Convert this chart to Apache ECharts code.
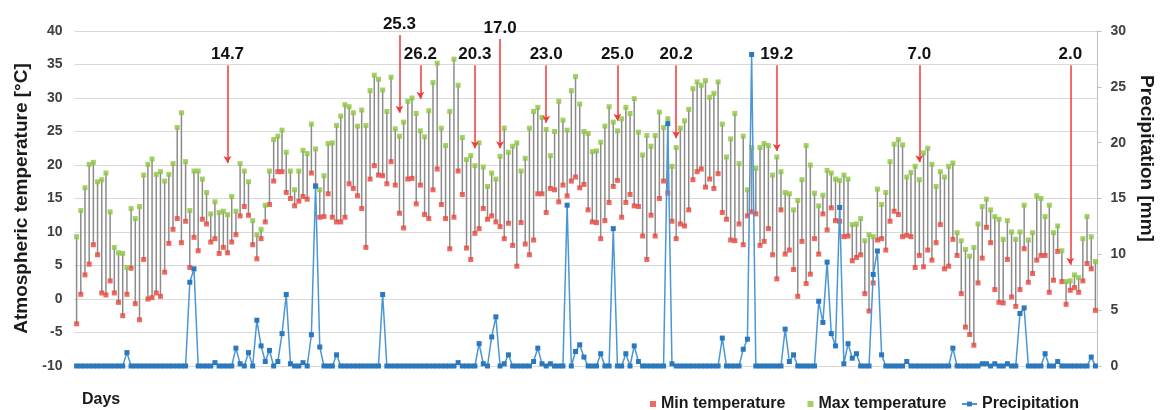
<!DOCTYPE html>
<html>
<head>
<meta charset="utf-8">
<script src="https://cdn.jsdelivr.net/npm/echarts@6/dist/echarts.min.js"></script>
<style>
  html, body { margin: 0; padding: 0; background: #fff; }
  #chart { width: 1164px; height: 410px; }
</style>
</head>
<body>
<div id="chart"></div>
<script>
// daily values (244 days)
var minTemp = [
  -3.7, 0.7, 3.6, 5.2, 8.1, 6.6, 0.9, 0.6, 2.7, 0.9, -0.5, -2.5, 0.7, 4.6, -0.7, -3.1, 5.9, 0.0, 0.2, 0.9,
  0.4, 4.0, 8.3, 10.4, 12.0, 8.4, 11.6, 4.7, 9.2, 7.2, 11.9, 11.2, 8.5, 9.0, 6.8, 7.7, 6.9, 8.5, 9.6, 12.4,
  13.8, 12.5, 8.1, 6.0, 9.0, 11.5, 14.1, 17.6, 19.0, 19.0, 15.9, 15.0, 13.9, 14.6, 15.3, 14.9, 18.8, 16.9, 12.2, 12.3,
  15.7, 12.2, 11.5, 11.5, 12.2, 17.2, 16.5, 15.4, 13.5, 7.7, 17.9, 19.9, 18.5, 18.4, 17.2, 20.5, 17.0, 12.8, 10.6, 17.9,
  18.0, 14.2, 17.0, 12.6, 12.0, 16.3, 19.4, 14.1, 12.0, 7.5, 12.2, 19.1, 15.6, 7.6, 5.9, 9.8, 10.5, 13.5, 11.9, 12.4,
  11.5, 10.8, 9.0, 11.3, 8.0, 4.9, 11.4, 8.2, 6.6, 8.8, 15.7, 15.7, 12.9, 16.5, 16.3, 14.5, 17.0, 15.4, 17.6, 18.2,
  16.6, 17.1, 13.3, 11.5, 11.4, 9.0, 11.7, 14.4, 16.8, 17.7, 12.2, 14.4, 15.6, 13.9, 13.8, 9.4, 5.9, 12.5, 9.4, 15.0,
  17.6, 15.8, 11.6, 9.0, 11.2, 10.9, 13.3, 17.8, 19.0, 19.4, 16.7, 17.9, 16.5, 18.7, 12.9, 11.9, 8.8, 8.7, 11.2, 8.1,
  12.4, 13.0, 12.7, 8.0, 8.6, 10.5, 6.6, 3.0, 13.3, 6.7, 7.3, 4.4, 0.4, 8.6, 2.3, 3.7, 9.0, 6.7, 12.7, 10.3,
  13.6, 11.7, 11.6, 9.3, 9.4, 5.7, 6.2, 6.6, 0.8, -1.8, 2.4, 8.8, 9.0, 7.3, 11.6, 13.1, 12.6, 9.3, 9.5, 9.3,
  4.7, 6.5, 4.8, 7.3, 5.8, 8.4, 11.1, 4.5, 4.9, 8.9, 6.5, 0.8, -4.2, -5.3, -6.9, 2.4, 6.1, 10.7, 8.4, 1.4,
  -0.5, -0.6, 5.9, 0.3, -1.1, 1.4, 7.5, 2.5, 3.8, 5.8, 6.5, 6.5, 1.0, 2.8, 7.1, 2.6, -0.8, 1.3, 1.7, 1.0,
  2.7, 5.3, 4.5, -1.7
];
var maxTemp = [
  9.3, 13.2, 16.6, 20.1, 20.4, 17.5, 17.8, 18.8, 13.0, 7.7, 6.9, 6.8, 4.7, 13.5, 12.0, 13.8, 18.5, 20.1, 20.9, 18.6,
  19.0, 17.6, 18.6, 20.2, 25.6, 27.8, 20.5, 13.2, 19.1, 19.1, 17.9, 15.9, 12.7, 14.5, 12.9, 13.1, 12.6, 15.3, 13.1, 20.2,
  19.1, 17.5, 11.7, 9.6, 10.4, 14.0, 19.1, 23.8, 24.3, 25.2, 21.9, 19.1, 16.3, 19.1, 22.2, 21.7, 26.1, 22.4, 16.3, 18.4,
  23.2, 23.3, 25.9, 27.3, 29.0, 28.7, 27.8, 25.8, 28.2, 25.9, 31.1, 33.4, 32.8, 31.2, 28.0, 33.1, 25.4, 24.3, 26.4, 29.5,
  30.0, 27.7, 25.1, 24.2, 28.1, 32.3, 35.2, 25.5, 22.9, 28.0, 35.8, 31.9, 24.1, 20.8, 21.4, 19.9, 23.3, 19.7, 16.8, 18.8,
  17.9, 21.3, 25.5, 21.9, 22.8, 23.3, 19.1, 21.0, 25.5, 28.0, 28.6, 27.1, 25.3, 21.4, 25.0, 29.5, 26.7, 25.2, 31.1, 33.2,
  29.1, 25.0, 24.7, 22.0, 22.1, 23.4, 25.8, 28.7, 26.4, 25.1, 26.9, 28.6, 27.7, 29.9, 24.9, 21.5, 24.4, 22.8, 24.4, 27.9,
  25.6, 26.9, 19.8, 22.6, 25.5, 26.6, 28.3, 31.4, 32.4, 31.9, 32.6, 30.1, 30.7, 32.4, 26.1, 21.2, 23.9, 27.7, 20.2, 24.3,
  16.3, 22.6, 19.5, 22.6, 23.2, 22.9, 18.5, 21.2, 19.0, 15.9, 15.7, 13.3, 14.7, 17.8, 22.9, 20.0, 15.8, 13.9, 15.5, 19.2,
  18.8, 17.9, 17.7, 18.5, 17.9, 11.1, 11.2, 12.0, 8.7, 9.6, 9.3, 16.4, 14.1, 15.9, 20.5, 23.1, 23.8, 23.0, 18.2, 18.9,
  19.8, 17.8, 21.8, 22.5, 20.1, 16.8, 19.0, 18.2, 19.8, 20.3, 9.9, 8.7, 7.4, 6.4, 7.7, 11.2, 13.8, 14.9, 13.3, 12.3,
  11.9, 8.9, 11.7, 10.0, 8.9, 10.0, 14.0, 8.8, 9.9, 15.4, 15.0, 12.3, 14.0, 9.9, 10.9, 7.2, 2.6, 2.7, 3.6, 3.2,
  9.0, 12.3, 9.3, 5.6
];
var precipitation = [
  0, 0, 0, 0, 0, 0, 0, 0, 0, 0, 0, 0, 1.2, 0, 0, 0, 0, 0, 0, 0,
  0, 0, 0, 0, 0, 0, 0, 7.5, 8.7, 0, 0, 0, 0, 0.3, 0, 0, 0, 0, 1.6, 0.2,
  0, 1.2, 0, 4.1, 1.8, 0.4, 1.4, 0, 0.4, 2.9, 6.4, 0.2, 0, 0, 0.3, 0, 2.8, 16.1, 1.7, 0,
  0, 0, 1.0, 0, 0, 0, 0, 0, 0, 0, 0, 0, 0, 6.4, 0, 0, 0, 0, 0, 0,
  0, 0, 0, 0, 0, 0, 0, 0, 0, 0, 0, 0.3, 0, 0, 0, 0, 2.0, 0.2, 0, 2.6,
  4.4, 0, 0.2, 1.0, 0, 0, 0, 0, 0, 0.4, 1.6, 0.2, 0, 0.2, 0, 0, 0, 14.4, 0, 1.3,
  1.9, 0.8, 0, 0, 0, 1.1, 0, 0, 12.3, 0, 0, 1.1, 0, 1.8, 0.4, 0, 0, 0, 0, 0,
  0, 21.7, 0.2, 0, 0, 0, 0, 0, 0, 0, 0, 0, 0, 0, 2.5, 0, 0, 0, 0, 1.5,
  2.4, 27.9, 0, 0, 0, 0, 0, 0, 0, 3.3, 0.4, 1.0, 0, 0, 0, 0, 0, 5.8, 3.9, 9.3,
  2.9, 1.8, 14.2, 0.2, 2.0, 0.7, 1.1, 0, 0, 0, 8.2, 10.3, 1.0, 0, 0, 0, 0, 0, 0.4, 0,
  0, 0, 0, 0, 0, 0, 0, 0, 0, 1.6, 0, 0, 0, 0, 0, 0, 0.2, 0.2, 0, 0.2,
  0, 0, 0.2, 0, 0, 4.7, 5.2, 0, 0, 0, 0, 1.1, 0, 0, 0.4, 0, 0, 0, 0, 0,
  0, 0, 0.8, 0
];
var days = minTemp.map(function(v, i) { return String(i + 1); });

// red arrows: day index, label, arrow top / tip (°C)
var arrowDay = [36, 77, 82, 95, 101, 112, 129, 143, 167, 201, 237];
var arrowLabel = ["14.7", "25.3", "26.2", "20.3", "17.0", "23.0", "25.0", "20.2", "19.2", "7.0", "2.0"];
var arrowTop = [34.9, 39.4, 34.9, 34.9, 38.8, 34.9, 34.9, 34.9, 34.9, 34.9, 34.9];
var arrowTip = [20.3, 27.8, 29.9, 22.5, 22.5, 26.3, 26.6, 24.0, 22.1, 20.4, 5.1];

var font = "'Liberation Sans', Arial, sans-serif";
var chart = echarts.init(document.getElementById("chart"));

var hiLo = days.map(function(d, i) { return [i, minTemp[i], maxTemp[i]]; });
var arrows = arrowDay.map(function(d, k) {
  return [
    { name: arrowLabel[k], coord: [d, arrowTop[k]] },
    { coord: [d, arrowTip[k]] }
  ];
});

chart.setOption({
  animation: false,
  textStyle: { fontFamily: font },
  grid: { left: 74.5, right: 57, top: 31, bottom: 44 },
  graphic: [
    {
      type: "text",
      left: 82,
      top: 392,
      style: { text: "Days", font: "bold 16px " + font, fill: "#1a1a1a" }
    }
  ],
  legend: [
    {
      data: ["Min temperature", "Max temperature"],
      left: 645,
      top: 391,
      itemWidth: 6,
      itemHeight: 6,
      itemGap: 22,
      textStyle: { fontFamily: font, fontSize: 16, fontWeight: "bold", color: "#1a1a1a" }
    },
    {
      data: ["Precipitation"],
      left: 956,
      top: 391,
      itemWidth: 15,
      itemHeight: 6,
      textStyle: { fontFamily: font, fontSize: 16, fontWeight: "bold", color: "#1a1a1a" }
    }
  ],
  xAxis: {
    type: "category",
    data: days,
    boundaryGap: true,
    axisLine: { lineStyle: { color: "#d9d9d9" } },
    axisTick: { show: false },
    axisLabel: { show: false }
  },
  yAxis: [
    {
      type: "value",
      min: -10,
      max: 40,
      interval: 5,
      name: "Atmospheric temperature [°C]",
      nameLocation: "middle",
      nameGap: 43,
      nameTextStyle: { fontFamily: font, fontSize: 19, fontWeight: "bold", color: "#1a1a1a" },
      axisLine: { show: false },
      axisTick: { show: false },
      axisLabel: { fontFamily: font, fontSize: 14, fontWeight: "bold", color: "#404040", margin: 12 },
      splitLine: { lineStyle: { color: "#d9d9d9" } }
    },
    {
      type: "value",
      min: 0,
      max: 30,
      interval: 5,
      position: "right",
      name: "Precipitation [mm]",
      nameLocation: "middle",
      nameRotate: -90,
      nameGap: 39,
      nameTextStyle: {
        fontFamily: font, fontSize: 19, fontWeight: "bold", color: "#1a1a1a",
        padding: [0, 80, 0, 0]
      },
      axisLine: { show: true, lineStyle: { color: "#bfbfbf" } },
      axisTick: { show: true, length: 4, lineStyle: { color: "#bfbfbf" } },
      axisLabel: { fontFamily: font, fontSize: 14, fontWeight: "bold", color: "#404040", margin: 13 },
      splitLine: { show: false }
    }
  ],
  series: [
    {
      name: "range",
      type: "custom",
      data: hiLo,
      encode: { x: 0, y: [1, 2] },
      renderItem: function(params, api) {
        var lo = api.coord([api.value(0), api.value(1)]);
        var hi = api.coord([api.value(0), api.value(2)]);
        return {
          type: "line",
          shape: { x1: lo[0], y1: lo[1], x2: hi[0], y2: hi[1] },
          style: { stroke: "#8c8c8c", lineWidth: 1.5 }
        };
      },
      markLine: {
        silent: true,
        symbol: ["none", "arrow"],
        symbolSize: [6, 7],
        lineStyle: { color: "#f03a3a", width: 1.5, type: "solid" },
        label: {
          show: true,
          position: "start",
          distance: 2,
          formatter: "{b}",
          fontFamily: font,
          fontSize: 17,
          fontWeight: "bold",
          color: "#111"
        },
        data: arrows
      }
    },
    {
      name: "Min temperature",
      type: "scatter",
      data: minTemp,
      symbol: "rect",
      symbolSize: 5,
      itemStyle: { color: "#e8453c" }
    },
    {
      name: "Max temperature",
      type: "scatter",
      data: maxTemp,
      symbol: "rect",
      symbolSize: 5,
      itemStyle: { color: "#8dc63f" }
    },
    {
      name: "Precipitation",
      type: "line",
      yAxisIndex: 1,
      data: precipitation,
      symbol: "rect",
      symbolSize: 5,
      showAllSymbol: true,
      itemStyle: { color: "#2a78be" },
      lineStyle: { color: "#4a96d6", width: 1.5 }
    }
  ]
});
</script>
</body>
</html>
